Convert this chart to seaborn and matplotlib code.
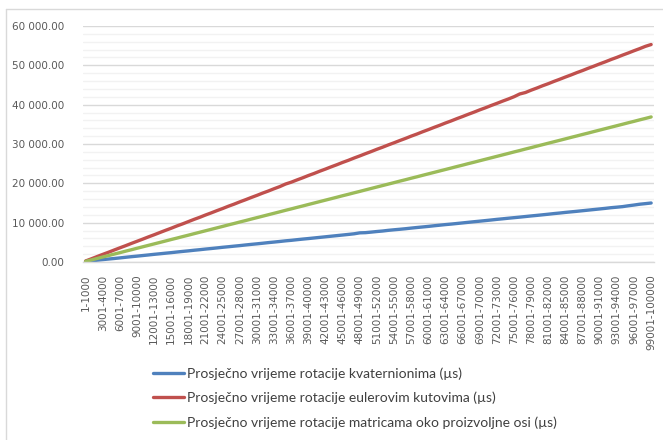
import matplotlib
matplotlib.use("Agg")
import matplotlib.pyplot as plt
from matplotlib.lines import Line2D
from matplotlib.ticker import MultipleLocator, FuncFormatter
import seaborn as sns
import pandas as pd

# Bins of 1000 rotations each: "1-1000", "1001-2000", ..., "99001-100000"
bins = [f"{1000 * i + 1}-{1000 * (i + 1)}" for i in range(100)]

# Average rotation time (µs) per bin
kvaternioni = [140, 290, 450, 600, 750, 890, 1040, 1200, 1350, 1490,
               1640, 1790, 1950, 2090, 2240, 2380, 2540, 2690, 2830, 2990,
               3130, 3290, 3430, 3580, 3740, 3880, 4030, 4170, 4330, 4480,
               4620, 4770, 4930, 5070, 5220, 5380, 5510, 5670, 5820, 5960,
               6110, 6260, 6410, 6560, 6710, 6860, 7010, 7170, 7410, 7460,
               7600, 7750, 7880, 8050, 8190, 8320, 8460, 8620, 8770, 8910,
               9050, 9210, 9360, 9510, 9640, 9790, 9940, 10090, 10240, 10380,
               10530, 10680, 10840, 10980, 11130, 11270, 11410, 11560, 11710, 11850,
               12000, 12150, 12310, 12450, 12610, 12750, 12890, 13040, 13190, 13340,
               13490, 13640, 13810, 13940, 14080, 14290, 14480, 14690, 14840, 15000]

euler = [250, 800, 1370, 1930, 2470, 3040, 3600, 4140, 4710, 5260,
         5810, 6380, 6920, 7490, 8050, 8590, 9170, 9700, 10270, 10840,
         11370, 11950, 12490, 13060, 13600, 14180, 14710, 15290, 15830, 16400,
         16940, 17520, 18050, 18630, 19170, 19820, 20290, 20860, 21400, 21980,
         22510, 23090, 23630, 24200, 24740, 25320, 25850, 26430, 26970, 27540,
         28080, 28660, 29190, 29770, 30310, 30880, 31420, 32000, 32530, 33110,
         33650, 34220, 34760, 35340, 35870, 36450, 36990, 37560, 38100, 38680,
         39210, 39790, 40330, 40900, 41440, 42020, 42720, 43090, 43690, 44230,
         44810, 45340, 45920, 46460, 47030, 47570, 48150, 48680, 49260, 49800,
         50370, 50910, 51490, 52020, 52600, 53140, 53710, 54250, 54830, 55290]

matrice = [150, 520, 890, 1270, 1630, 2010, 2370, 2750, 3110, 3490,
           3860, 4230, 4600, 4970, 5340, 5720, 6080, 6460, 6820, 7200,
           7570, 7940, 8310, 8680, 9050, 9430, 9790, 10170, 10530, 10910,
           11280, 11650, 12020, 12390, 12760, 13140, 13500, 13880, 14240, 14620,
           14990, 15360, 15730, 16100, 16470, 16850, 17210, 17590, 17950, 18330,
           18700, 19070, 19440, 19810, 20180, 20560, 20920, 21300, 21660, 22040,
           22410, 22780, 23150, 23520, 23890, 24270, 24630, 25010, 25370, 25750,
           26120, 26490, 26860, 27230, 27600, 27980, 28340, 28720, 29080, 29460,
           29830, 30200, 30570, 30940, 31310, 31690, 32050, 32430, 32790, 33170,
           33540, 33910, 34280, 34650, 35020, 35400, 35760, 36140, 36500, 36880]

series_names = [
    "Prosječno vrijeme rotacije kvaternionima (µs)",
    "Prosječno vrijeme rotacije eulerovim kutovima (µs)",
    "Prosječno vrijeme rotacije matricama oko proizvoljne osi (µs)",
]
colors = ["#4F81BD", "#C0504D", "#9BBB59"]

df = pd.DataFrame({
    "bin": bins * 3,
    "x": list(range(100)) * 3,
    "value": kvaternioni + euler + matrice,
    "series": [series_names[0]] * 100 + [series_names[1]] * 100 + [series_names[2]] * 100,
})

sns.set_theme(style="white")
plt.rcParams["font.family"] = ["DejaVu Sans"]

W, H = 663, 440
fig = plt.figure(figsize=(W / 100, H / 100), dpi=100)
ax = fig.add_axes([82.7 / W, 1 - 262 / H, (654 - 82.7) / W, (262 - 26) / H])

sns.lineplot(data=df, x="x", y="value", hue="series", palette=colors,
             linewidth=2.4, ax=ax, legend=False, sort=True)

ax.set_xlim(-0.5, 99.5)
ax.set_ylim(0, 60000)

# gridlines: major every 10 000, minor every 2 000
ax.yaxis.set_major_locator(MultipleLocator(10000))
ax.yaxis.set_minor_locator(MultipleLocator(2000))
ax.grid(axis="y", which="minor", color="#F2F2F2", linewidth=1.0, zorder=0)
ax.grid(axis="y", which="major", color="#D9D9D9", linewidth=1.0, zorder=0)
ax.grid(axis="x", visible=False)
ax.set_axisbelow(True)

ax.yaxis.set_major_formatter(FuncFormatter(lambda v, p: f"{v:,.2f}".replace(",", " ")))

tick_pos = list(range(0, 100, 3))
ax.set_xticks(tick_pos)
ax.set_xticklabels([bins[i] for i in tick_pos], rotation=90)

ax.tick_params(axis="y", which="both", length=0, pad=13, labelsize=7.5, labelcolor="#595959")
ax.tick_params(axis="x", which="both", length=0, pad=9, labelsize=7.5, labelcolor="#595959")

for s in ["top", "right", "left"]:
    ax.spines[s].set_visible(False)
ax.spines["bottom"].set_color("#D9D9D9")
ax.spines["bottom"].set_linewidth(1.0)
ax.set_xlabel("")
ax.set_ylabel("")

# chart frame (left and top edges)
fig.add_artist(Line2D([5.5 / W, 5.5 / W], [0, 1 - 9 / H], transform=fig.transFigure,
                      color="#D9D9D9", linewidth=1.0))
fig.add_artist(Line2D([5.5 / W, 1], [1 - 9 / H, 1 - 9 / H], transform=fig.transFigure,
                      color="#D9D9D9", linewidth=1.0))

handles = [Line2D([], [], color=c, linewidth=2.4) for c in colors]
leg = fig.legend(handles, series_names, loc="upper left",
                 bbox_to_anchor=(153 / W, 1 - 367 / H),
                 frameon=False, prop={"family": "Lato", "size": 10.0},
                 handlelength=2.25, handletextpad=0.2, labelspacing=0.88,
                 borderaxespad=0, borderpad=0)
for t in leg.get_texts():
    t.set_color("#404040")

fig.savefig("out.png", dpi=100, facecolor="white")
